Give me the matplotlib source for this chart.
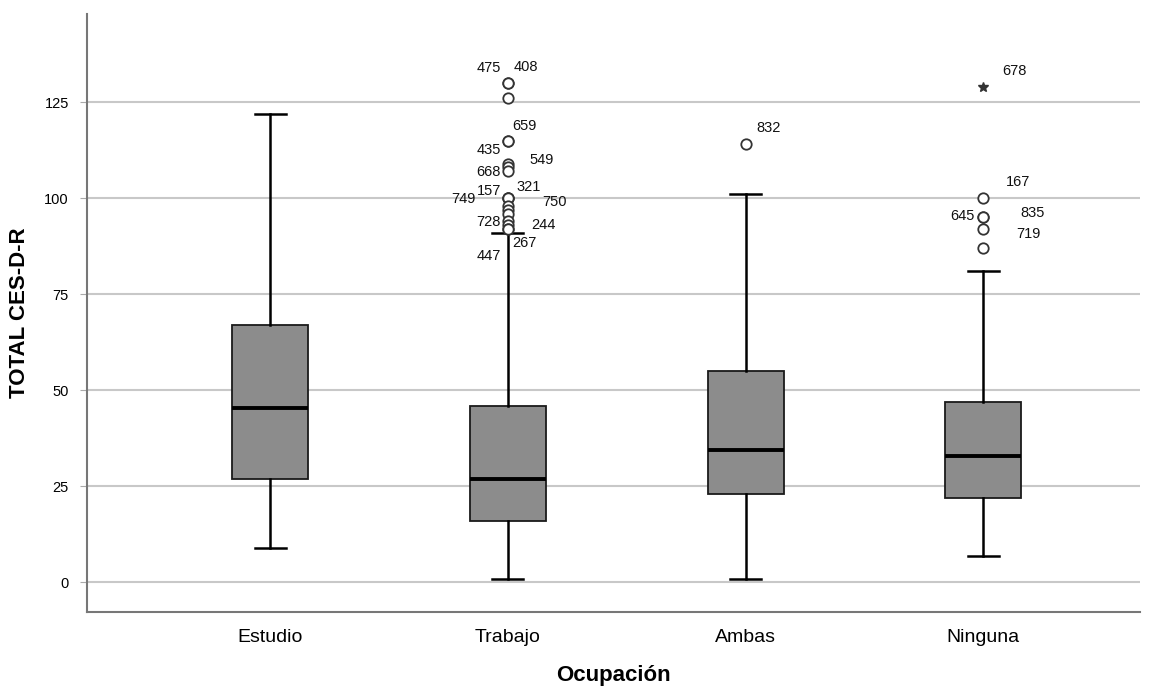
import matplotlib
matplotlib.use("Agg")
import matplotlib.pyplot as plt

plt.rcParams['font.family'] = ['Liberation Sans', 'DejaVu Sans']

# data
categories = ['Estudio', 'Trabajo', 'Ambas', 'Ninguna']
whislo = [9, 1, 1, 7]
q1 = [27, 16, 23, 22]
med = [45.5, 27, 34.5, 33]
q3 = [67, 46, 55, 47]
whishi = [122, 91, 101, 81]

# outliers: (group index, value, case id)
outliers = [
    (1, 130, '475'), (1, 130, '408'), (1, 126, ''), (1, 115, '659'), (1, 115, '435'),
    (1, 109, '549'), (1, 108, ''), (1, 107, '668'), (1, 100, '321'), (1, 100, '157'),
    (1, 100, '749'), (1, 98, '750'), (1, 97, ''), (1, 96, ''), (1, 94, '728'),
    (1, 93, '244'), (1, 92, '267'), (1, 92, '447'),
    (2, 114, '832'),
    (3, 100, '167'), (3, 95, '645'), (3, 95, '835'), (3, 92, '719'), (3, 87, ''),
]
extremes = [(3, 129, '678')]

# label offsets in pixels (x right, y up), one per outlier label
label_offsets = {
    '475': (-19, 15), '408': (18, 16), '659': (17, 15), '435': (-19, -9),
    '549': (34, 4), '668': (-19, -1), '321': (21, 11), '157': (-19, 7),
    '749': (-44, -1), '750': (47, 4), '728': (-19, -1), '244': (36, 0),
    '267': (17, -14), '447': (-19, -27), '832': (23, 16), '167': (35, 16),
    '645': (-21, 1), '835': (49, 4), '719': (45, -5), '678': (31, 16),
}

stats = []
for i, c in enumerate(categories):
    stats.append(dict(label=c, whislo=whislo[i], q1=q1[i], med=med[i],
                      q3=q3[i], whishi=whishi[i], fliers=[]))

fig = plt.figure(figsize=(11.56, 6.90), dpi=100)
ax = fig.add_axes([0.0753, 0.113, 0.911, 0.867])

ax.bxp(stats, positions=range(len(categories)), widths=0.32, patch_artist=True,
       showfliers=False,
       boxprops=dict(facecolor='#8c8c8c', edgecolor='#1a1a1a', linewidth=1.3),
       medianprops=dict(color='black', linewidth=2.8),
       whiskerprops=dict(color='black', linewidth=1.8),
       capprops=dict(color='black', linewidth=1.8), capwidths=0.13, zorder=3)

for g, v, lab in outliers:
    ax.plot(g, v, 'o', ms=7.5, mfc='white', mec='#333333', mew=1.3, zorder=4)
for g, v, lab in extremes:
    ax.plot(g, v, '*', ms=7, color='#333333', zorder=4)

for g, v, lab in outliers + extremes:
    if lab:
        dx, dy = label_offsets[lab]
        ax.annotate(lab, (g, v), xytext=(dx * 0.72, dy * 0.72), textcoords='offset points',
                    ha='center', va='center', fontsize=10.5, color='#111111', zorder=5)

ax.set_xlim(-0.77, 3.66)
ax.set_ylim(-7.7, 148)
ax.set_yticks([0, 25, 50, 75, 100, 125])
ax.yaxis.grid(True, color='#c8c8c8', linewidth=1.5)
ax.set_axisbelow(True)
ax.set_xticks(range(len(categories)))
ax.set_xticklabels(categories, fontsize=14)
ax.tick_params(axis='x', length=0, pad=12)
ax.tick_params(axis='y', labelsize=10.5, length=5, color='#aaaaaa', pad=8)
for s in ['top', 'right']:
    ax.spines[s].set_visible(False)
for s in ['left', 'bottom']:
    ax.spines[s].set_color('#777777')
    ax.spines[s].set_linewidth(1.5)

ax.set_ylabel('TOTAL CES-D-R', fontsize=16, fontweight='bold', labelpad=10)
ax.set_xlabel('Ocupación', fontsize=16, fontweight='bold', labelpad=14)

fig.savefig('out.png', dpi=100)
